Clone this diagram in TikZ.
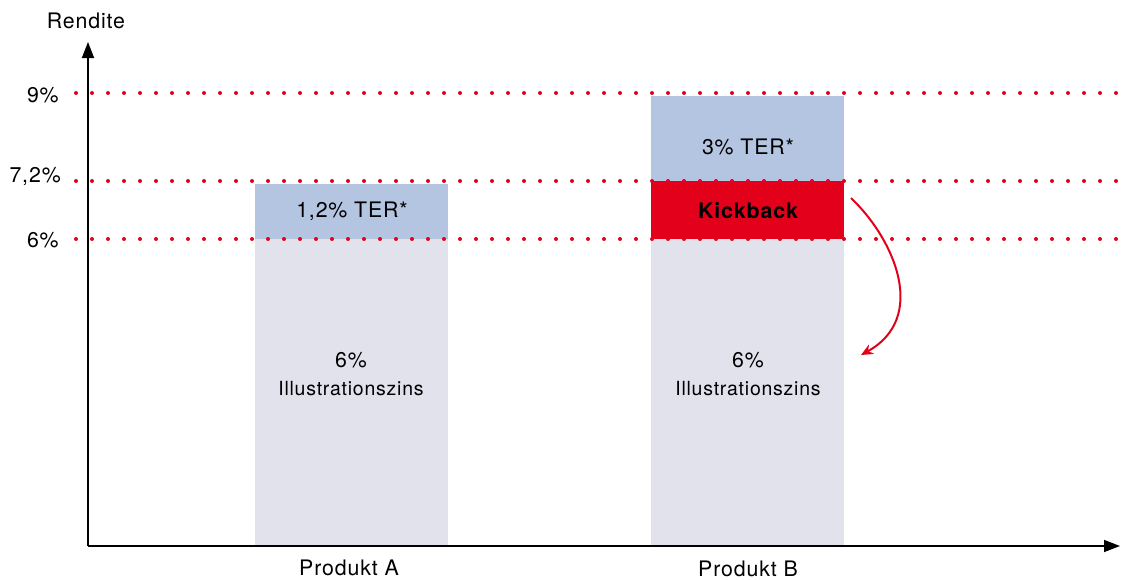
\documentclass[tikz,border=0pt]{standalone}
\usepackage{fontspec}
\setmainfont{TeX Gyre Heros}[LetterSpace=4]
\usetikzlibrary{arrows.meta}
\definecolor{kickred}{HTML}{E2001A}
\definecolor{terblue}{HTML}{B4C5E1}
\definecolor{zinsgray}{HTML}{E1E2EC}
\tikzset{
  axis/.style={line width=1.1pt,-{Triangle[length=12pt,width=9pt]}},
  level/.style={kickred,line width=3pt,line cap=round,dash pattern=on 0pt off 12pt},
  lbl/.style={font=\fontsize{16}{19}\selectfont,inner sep=0pt},
  zinslbl/.style={font=\fontsize{14.6}{17}\selectfont,inner sep=0pt},
  back/.style={kickred,line width=1.5pt,-{Stealth[length=9pt,width=8pt]}}
}
\def\ynine{93}
\def\yseven{181}
\def\ysix{239}
\def\ybase{546}

\begin{document}
\begin{tikzpicture}[x=0.75pt,y=-0.75pt]
  \useasboundingbox (0,0) rectangle (1121,579);

  % Bars
  \fill[zinsgray] (255,\ysix) rectangle (448,\ybase);
  \fill[terblue] (255,184) rectangle (448,\ysix);
  \fill[zinsgray] (651,\ysix) rectangle (844,\ybase);
  \fill[kickred] (651,\yseven) rectangle (844,\ysix);
  \fill[terblue] (651,96) rectangle (844,\yseven);

  % Levels
  \draw[level] (76,\ynine) -- (1125,\ynine);
  \draw[level] (76,\yseven) -- (1125,\yseven);
  \draw[level] (76,\ysix) -- (1125,\ysix);
  \node[lbl,anchor=east] (l9) at (59,95) {9\%};
  \node[lbl,anchor=east] (l72) at (61,177) {7,2\%};
  \node[lbl,anchor=east] (l6) at (59,240) {6\%};

  % Axes
  \coordinate (o) at (88,\ybase);
  \coordinate (ytop) at (88,42);
  \coordinate (xend) at (1120,\ybase);
  \draw[axis] (o) -- (ytop);
  \draw[axis] (o) -- (xend);
  \node[lbl] (rendite) at (86,21) {Rendite};
  \node[lbl] (prodA) at (349,568) {Produkt A};
  \node[lbl] (prodB) at (748,569) {Produkt B};

  % Bar texts
  \node[lbl] (terA) at (352,211) {1,2\% TER*};
  \node[lbl] (zinsA) at (351,360) {6\%};
  \node[zinslbl] (illA) at (351,389) {Illustrationszins};
  \node[lbl] (terB) at (748,147) {3\% TER*};
  \node[lbl,font=\fontsize{16}{19}\selectfont\bfseries] (kick) at (748,211) {Kickback};
  \node[lbl] (zinsB) at (748,360) {6\%};
  \node[zinslbl] (illB) at (748,389) {Illustrationszins};

  % Kickback arrow
  \coordinate (kfrom) at (851,198);
  \coordinate (kto) at (861,355);
  \draw[back] (kfrom) .. controls (895,240) and (928,318) .. (kto);
\end{tikzpicture}
\end{document}
